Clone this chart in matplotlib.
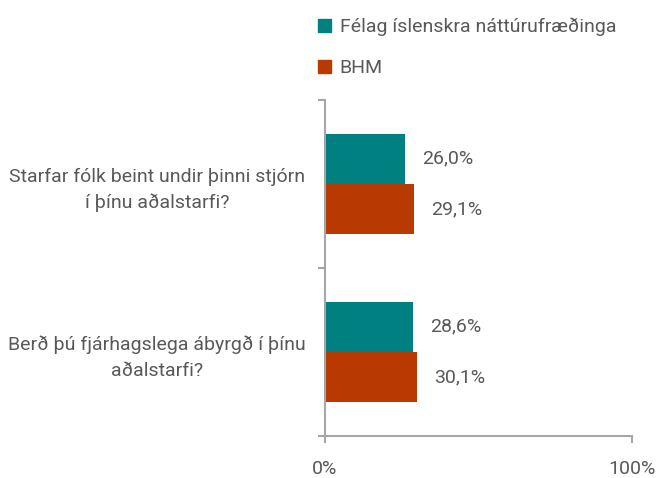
import matplotlib
matplotlib.use("Agg")
import matplotlib.pyplot as plt
from matplotlib.patches import Patch

# data
categories = ["Starfar fólk beint undir þinni stjórn\ní þínu aðalstarfi?",
              "Berð þú fjárhagslega ábyrgð í þínu\naðalstarfi?"]
series_names = ["Félag íslenskra náttúrufræðinga", "BHM"]
fin_values = [26.0, 28.6]
bhm_values = [29.1, 30.1]
x_ticks = [0, 100]
x_ticklabels = ["0%", "100%"]

colors = ["#008080", "#B83A00"]
txt = "#595959"
axis_col = "#A6A6A6"
fs = 14

plt.rcParams['font.family'] = ['Roboto', 'DejaVu Sans']

fig = plt.figure(figsize=(6.61, 4.78), dpi=100)
ax = fig.add_axes([0.4917, 0.088, 0.4644, 0.703])

h = 0.3
ypos = list(range(len(categories)))
for i, vals in enumerate([fin_values, bhm_values]):
    offs = -h / 2 if i == 0 else h / 2
    ys = [y + offs for y in ypos]
    ax.barh(ys, vals, height=h, color=colors[i], edgecolor="none")
    for y, v in zip(ys, vals):
        ax.text(v + 5.5, y, f"{v:.1f}%".replace(".", ","), va="center",
                ha="left", fontsize=fs, color=txt)

ax.set_xlim(0, 100)
ax.set_ylim(1.5, -0.5)

for s in ["top", "right"]:
    ax.spines[s].set_visible(False)
for s in ["left", "bottom"]:
    ax.spines[s].set_color(axis_col)
    ax.spines[s].set_linewidth(1.5)

ax.set_xticks(x_ticks)
ax.set_xticklabels(x_ticklabels)
ax.tick_params(axis="x", colors=axis_col, length=5, width=1.5, pad=12,
               labelsize=fs, labelcolor=txt)

ax.set_yticks([-0.5, 0.5, 1.5])
ax.set_yticklabels([])
ax.tick_params(axis="y", which="major", colors=axis_col, length=5, width=1.5)
ax.set_yticks(ypos, minor=True)
ax.set_yticklabels(categories, minor=True, multialignment="center",
                   linespacing=1.55)
ax.tick_params(axis="y", which="minor", length=0, pad=14, labelsize=fs,
               labelcolor=txt)

handles = [Patch(color=c) for c in colors]
fig.legend(handles, series_names, loc="upper left",
           bbox_to_anchor=(0.455, 1.0), frameon=False, fontsize=fs,
           handlelength=0.65, handleheight=0.65, handletextpad=0.45,
           labelspacing=1.2, labelcolor=txt)

fig.savefig("out.png", dpi=100)
